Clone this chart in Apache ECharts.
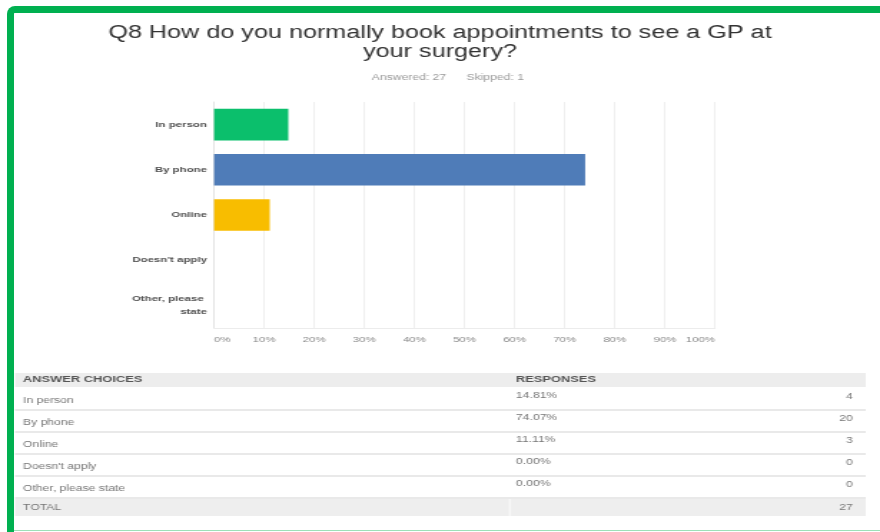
<!DOCTYPE html>
<html>
<head>
<meta charset="utf-8">
<script src="https://cdn.jsdelivr.net/npm/echarts@6/dist/echarts.min.js"></script>
<style>
  html, body { margin: 0; padding: 0; background: #fff; overflow: hidden; }
  #wrap { position: relative; width: 880px; height: 532px; overflow: hidden; }
  /* the panel is laid out at 615px and widened to fill the 880px frame */
  #chart { position: absolute; left: 0; top: 0; width: 615px; height: 532px;
           transform: scaleX(1.4309); transform-origin: 0 0; }
  #frame { position: absolute; left: 7px; top: 6px; width: 900px; height: 526px;
           box-sizing: border-box; border: 7px solid #00b050; border-bottom: none;
           border-radius: 8px 8px 0 0; pointer-events: none; }
  #frameEdge { position: absolute; left: 14px; top: 530px; width: 870px; height: 1px;
               background: #9ddfb8; pointer-events: none; }
</style>
</head>
<body>
<div id="wrap">
  <div id="chart"></div>
  <div id="frame"></div>
  <div id="frameEdge"></div>
</div>
<script>
// Survey question Q8: how respondents book GP appointments
const questionTitle = 'Q8 How do you normally book appointments to see a GP at\nyour surgery?';
const answeredCount = 27;
const skippedCount = 1;
const categories = ['In person', 'By phone', 'Online', "Doesn't apply", 'Other, please state'];
const percentValues = [14.81, 74.07, 11.11, 0.00, 0.00];
const responseCounts = [4, 20, 3, 0, 0];
const totalResponses = 27;
const barColors = ['#0bbf6c', '#4f7cb8', '#f8bd00', '#6bc8cd', '#a9a9a9'];
const xTicks = [0, 10, 20, 30, 40, 50, 60, 70, 80, 90, 100];
const tableHeaders = ['ANSWER CHOICES', 'RESPONSES'];
const totalLabel = 'TOTAL';

const chart = echarts.init(document.getElementById('chart'), null, { renderer: 'canvas' });

const font = 'Liberation Sans, Arial, Helvetica, sans-serif';
const tableLeft = 10.5, tableRight = 605;
const headerTop = 373, headerH = 14;
const rowH = 22, firstRowTop = 388;
const colSplit = 356.4;
const pctX = 360.6, countX = 596, nameX = 16.1;

const graphics = [];

// Question heading and response summary
graphics.push({
  type: 'text', x: 307.5, y: 42.5,
  style: {
    text: questionTitle, font: '17.6px ' + font, fill: '#333',
    textAlign: 'center', textVerticalAlign: 'middle', lineHeight: 19.5
  }
});
graphics.push({
  type: 'text', x: 313, y: 78,
  style: {
    text: 'Answered: ' + answeredCount + '      Skipped: ' + skippedCount,
    font: '8.5px ' + font, fill: '#9a9a9a', textAlign: 'center', textVerticalAlign: 'middle'
  }
});

// Response table, generated from the same arrays as the bars
graphics.push({
  type: 'rect', shape: { x: tableLeft, y: headerTop, width: tableRight - tableLeft, height: headerH },
  style: { fill: '#ededed' }, silent: true
});
graphics.push({
  type: 'text', x: nameX, y: headerTop + headerH / 2,
  style: { text: tableHeaders[0], font: 'bold 9px ' + font, fill: '#555', textVerticalAlign: 'middle' }
});
graphics.push({
  type: 'text', x: pctX, y: headerTop + headerH / 2,
  style: { text: tableHeaders[1], font: 'bold 9px ' + font, fill: '#555', textVerticalAlign: 'middle' }
});
categories.forEach(function (name, i) {
  const top = firstRowTop + i * rowH;
  graphics.push({
    type: 'text', x: nameX, y: top + 13,
    style: { text: name, font: '8.5px ' + font, fill: '#777', textVerticalAlign: 'middle' }
  });
  graphics.push({
    type: 'text', x: pctX, y: top + 8,
    style: { text: percentValues[i].toFixed(2) + '%', font: '8.5px ' + font, fill: '#777', textVerticalAlign: 'middle' }
  });
  graphics.push({
    type: 'text', x: countX, y: top + 9,
    style: { text: String(responseCounts[i]), font: '8.5px ' + font, fill: '#777', textAlign: 'right', textVerticalAlign: 'middle' }
  });
  graphics.push({
    type: 'line', shape: { x1: tableLeft, y1: top + rowH, x2: tableRight, y2: top + rowH },
    style: { stroke: '#e2e2e2', lineWidth: 1.5 }, silent: true
  });
});
const totalTop = firstRowTop + categories.length * rowH + 1;
graphics.push({
  type: 'rect', shape: { x: tableLeft, y: totalTop, width: tableRight - tableLeft, height: 17 },
  style: { fill: '#eeeeee' }, silent: true
});
graphics.push({
  type: 'line', shape: { x1: colSplit, y1: totalTop, x2: colSplit, y2: totalTop + 17 },
  style: { stroke: '#f8f8f8', lineWidth: 1.5 }, silent: true
});
graphics.push({
  type: 'text', x: nameX, y: totalTop + 9,
  style: { text: totalLabel, font: '8.5px ' + font, fill: '#777', textVerticalAlign: 'middle' }
});
graphics.push({
  type: 'text', x: countX, y: totalTop + 9,
  style: { text: String(totalResponses), font: '8.5px ' + font, fill: '#777', textAlign: 'right', textVerticalAlign: 'middle' }
});

const option = {
  backgroundColor: '#fff',
  animation: false,
  grid: { left: 149.6, right: 115.3, top: 102, height: 226, containLabel: false },
  xAxis: {
    type: 'value', min: 0, max: 100, interval: 10,
    axisLine: { show: true, lineStyle: { color: '#ececec' } },
    axisTick: { show: false },
    splitLine: { show: true, lineStyle: { color: '#efefef' } },
    axisLabel: {
      margin: 8, fontFamily: font, fontSize: 8, color: '#888',
      alignMinLabel: 'left', alignMaxLabel: 'right',
      formatter: function (v) { return xTicks.indexOf(v) >= 0 ? v + '%' : ''; }
    }
  },
  yAxis: {
    type: 'category', inverse: true, data: categories,
    axisLine: { show: true, lineStyle: { color: '#e4e4e4' } },
    axisTick: { show: false },
    axisLabel: {
      margin: 5, fontFamily: font, fontSize: 8, fontWeight: 'bold', color: '#505050',
      width: 60, overflow: 'break', lineHeight: 13
    }
  },
  series: [{
    type: 'bar',
    barCategoryGap: '30%',
    data: percentValues.map(function (v, i) {
      return { value: v, itemStyle: { color: barColors[i] } };
    })
  }],
  graphic: graphics
};

chart.setOption(option);
</script>
</body>
</html>
